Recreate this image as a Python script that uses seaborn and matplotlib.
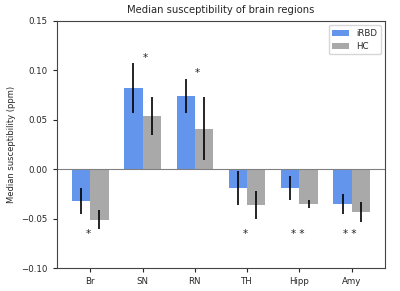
import matplotlib
matplotlib.use("Agg")
import matplotlib.pyplot as plt
import seaborn as sns
import pandas as pd

# data
regions = ['Br', 'SN', 'RN', 'TH', 'Hipp', 'Amy']
irbd = [-0.032, 0.082, 0.074, -0.019, -0.019, -0.035]
irbd_err = [0.013, 0.025, 0.017, 0.017, 0.012, 0.010]
hc = [-0.051, 0.054, 0.041, -0.036, -0.035, -0.043]
hc_err = [0.010, 0.019, 0.032, 0.014, 0.004, 0.010]
stars = ['*', '*', '*', '*', '* *', '* *']
star_y = [-0.066, 0.113, 0.097, -0.066, -0.066, -0.066]

df = pd.DataFrame({
    'region': regions * 2,
    'value': irbd + hc,
    'group': ['iRBD'] * 6 + ['HC'] * 6,
})

sns.set_style('white')
plt.rcParams['font.family'] = ['DejaVu Sans']

fig = plt.figure(figsize=(4, 2.91), dpi=100)
ax = fig.add_axes([0.1425, 0.079, 0.82, 0.849])

sns.barplot(data=df, x='region', y='value', hue='group', order=regions,
            palette={'iRBD': '#6495ED', 'HC': '#A9A9A9'}, width=0.7,
            saturation=1, errorbar=None, ax=ax, linewidth=0)

# error bars at the bar tips
vals = irbd + hc
errs = irbd_err + hc_err
for p, v, e in zip(ax.patches[:12], vals, errs):
    xc = p.get_x() + p.get_width() / 2
    ax.errorbar(xc, v, yerr=e, color='black', lw=1.2, capsize=0)

for i, (s, yy) in enumerate(zip(stars, star_y)):
    ax.text(i + 0.05 if yy > 0 else i - 0.03, yy, s, ha='center', va='center', fontsize=7.5)

ax.axhline(0, color='gray', lw=0.8)
ax.set_xlim(-0.635, 5.635)
ax.set_ylim(-0.10, 0.15)
ax.set_yticks([-0.10, -0.05, 0.0, 0.05, 0.10, 0.15])
ax.set_xlabel('')
ax.set_ylabel('Median susceptibility (ppm)', fontsize=6)
ax.set_title('Median susceptibility of brain regions', fontsize=7.2)
ax.tick_params(axis='both', labelsize=6.2, length=3, bottom=True, left=True)
for sp in ax.spines.values():
    sp.set_color('#444444')
    sp.set_linewidth(0.8)
ax.legend(loc='upper right', fontsize=6.2, title=None)

fig.savefig('out.png', dpi=100)
